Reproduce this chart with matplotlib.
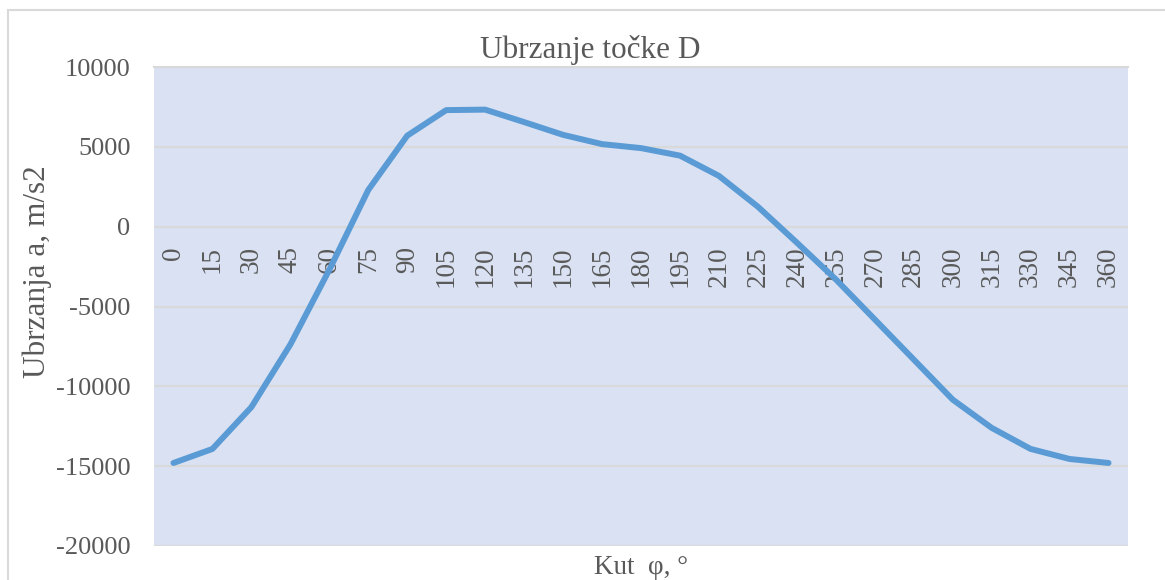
import numpy as np
import matplotlib
matplotlib.use("Agg")
import matplotlib.pyplot as plt
from matplotlib.patches import Rectangle

# angle categories and acceleration values
kut = [0, 15, 30, 45, 60, 75, 90, 105, 120, 135, 150, 165, 180,
       195, 210, 225, 240, 255, 270, 285, 300, 315, 330, 345, 360]
ubrzanje = [-14800, -13920, -11300, -7380, -2700, 2300, 5700, 7300, 7330,
            6550, 5750, 5170, 4920, 4450, 3180, 1250, -1000, -3300, -5810,
            -8320, -10830, -12600, -13920, -14550, -14800]
y_ticks = [-20000, -15000, -10000, -5000, 0, 5000, 10000]

plt.rcParams['font.family'] = ['Liberation Serif', 'DejaVu Serif']
txt = '#595959'

fig = plt.figure(figsize=(11.65, 5.8), dpi=100)
fig.patches.append(Rectangle((8 / 1165, -0.1), 1.2, 1 - 10 / 580 + 0.1,
                             transform=fig.transFigure, fill=False,
                             edgecolor='#D9D9D9', linewidth=1.5))

ax = fig.add_axes([154 / 1165, 34 / 580, 974 / 1165, 479 / 580])
ax.set_facecolor('#D9E1F2')

x = np.arange(len(kut))
ax.plot(x, ubrzanje, color='#5B9BD5', linewidth=4.3,
        solid_capstyle='round', solid_joinstyle='round', zorder=3)

ax.set_xlim(-0.5, len(kut) - 0.5)
ax.set_ylim(-20000, 10000)
ax.set_yticks(y_ticks)
ax.set_yticklabels([str(v) for v in y_ticks], fontsize=19, color=txt)
ax.grid(axis='y', color='#D9D9D9', linewidth=1.5, zorder=1)
ax.set_axisbelow(True)

# category axis crosses at zero, labels inside the plot
ax.spines['bottom'].set_position(('data', 0))
ax.set_xticks(x)
ax.set_xticklabels([str(k) for k in kut], rotation=90, fontsize=19.5,
                   color=txt, va='top')
ax.tick_params(axis='x', length=0, pad=14)
ax.tick_params(axis='y', length=0, pad=17)
for s in ['left', 'right', 'bottom']:
    ax.spines[s].set_visible(False)
ax.spines['top'].set_color('#D9D9D9')
ax.spines['top'].set_linewidth(1.5)

fig.text(590 / 1165, 1 - 50 / 580, 'Ubrzanje točke D', ha='center',
         va='center', fontsize=22.5, color=txt)
fig.text(641 / 1165, 1 - 567 / 580, 'Kut  φ, °', ha='center', va='center',
         fontsize=19.5, color=txt)
fig.text(37 / 1165, 1 - 272 / 580, 'Ubrzanja a, m/s2', ha='center',
         va='center', rotation=90, fontsize=22.5, color=txt)

fig.savefig('out.png', dpi=100)
